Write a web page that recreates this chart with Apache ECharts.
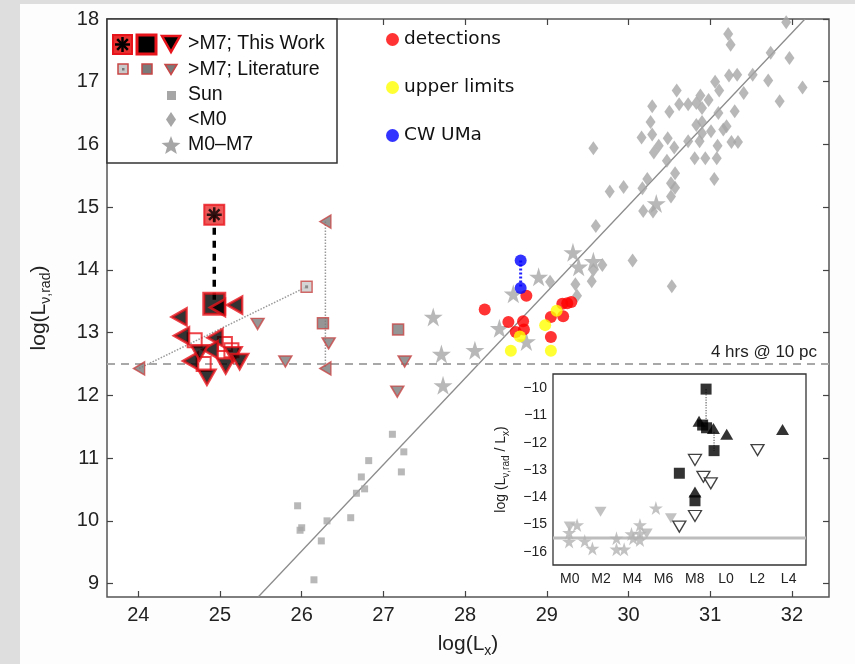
<!DOCTYPE html>
<html><head><meta charset="utf-8">
<script src="https://cdn.jsdelivr.net/npm/echarts@6/dist/echarts.min.js"></script>
<style>html,body{margin:0;padding:0;background:#fdfdfd;}#c{width:855px;height:664px;}</style>
</head><body><div id="c"></div>
<script>
// ---------- main panel ticks ----------
const xTicks = [24,25,26,27,28,29,30,31,32];
const yTicks = [9,10,11,12,13,14,15,16,17,18];
// ---------- >M7 This Work ----------
const twAsterisk = [[24.93,14.88]];
const twSquares = [[24.93,13.46]];
const twLeft = [[25.18,13.44],[24.97,13.40],[24.50,13.25],[24.53,12.95],[24.94,12.92],[24.88,12.73],[24.64,12.55]];
const twDown = [[24.75,12.68],[24.84,12.29],[25.07,12.47],[25.16,12.65],[25.24,12.54]];
const twOpenSq = [[24.69,12.88],[24.80,12.50],[25.06,12.82],[25.14,12.72]];
const twLink = [[24.93,14.88],[24.93,13.46]];
// ---------- >M7 Literature ----------
const litDotSq = [[26.06,13.73]];
const litSquares = [[26.26,13.15],[27.18,13.05]];
const litDown = [[25.46,13.14],[25.80,12.54],[26.33,12.83],[27.26,12.54],[27.17,12.06]];
const litLeft = [[24.01,12.43],[26.29,14.77],[26.29,12.43]];
const litLinkA = [[24.01,12.43],[26.06,13.73]];
const litLinkB = [[26.29,14.77],[26.29,12.43]];
// ---------- Sun, <M0, M0-M7 ----------
const sunPts = [[25.95,10.24],[26.0,9.89],[25.98,9.85],[26.31,10.0],[26.24,9.68],[26.15,9.06],[26.60,10.05],[26.67,10.44],[26.77,10.51],[26.73,10.70],[26.82,10.96],[27.11,11.38],[27.25,11.10],[27.22,10.78]];
const earlyPts = [[29.57,15.94],[29.77,15.25],[29.94,15.32],[30.17,15.30],[30.18,14.94],[30.30,14.93],[30.23,15.45],[30.52,15.17],[30.57,15.31],[30.52,15.38],[30.57,15.54],[30.47,15.74],[30.56,15.95],[30.48,16.10],[30.37,15.98],[30.31,15.87],[30.16,16.11],[30.29,16.16],[30.27,16.36],[30.29,16.61],[30.50,16.52],[30.59,16.86],[30.62,16.64],[30.73,16.64],[30.83,16.66],[30.90,16.58],[30.88,16.78],[30.98,16.71],[30.83,16.31],[30.90,16.36],[30.90,16.18],[30.87,16.05],[30.73,16.05],[31.01,16.21],[31.10,16.50],[31.11,16.86],[31.06,17.0],[31.23,17.10],[31.33,17.11],[31.30,16.53],[31.16,16.24],[31.20,16.29],[31.26,16.04],[31.34,16.04],[31.09,15.98],[31.08,15.78],[30.94,15.78],[30.81,15.78],[31.05,15.45],[31.41,16.82],[31.52,17.11],[31.71,17.02],[31.74,17.46],[31.85,16.69],[31.97,17.38],[32.13,16.91],[31.22,17.76],[31.25,17.59],[31.93,17.95],[29.60,14.70],[30.05,14.15],[29.68,14.08],[29.57,14.0],[29.55,13.82],[29.35,13.77],[29.37,13.59],[30.53,13.74],[29.04,13.81]];
const midMPts = [[27.61,13.25],[27.71,12.66],[27.73,12.16],[28.12,12.72],[28.42,13.07],[28.59,13.62],[28.75,12.86],[28.90,13.89],[29.32,14.28],[29.39,14.05],[29.57,14.14],[30.34,15.06]];
// ---------- detections / upper limits / CW UMa ----------
const detections = [[28.24,13.37],[28.75,13.59],[28.53,13.17],[28.71,13.18],[28.62,13.01],[28.72,13.05],[29.05,12.93],[29.05,13.25],[29.20,13.26],[29.19,13.46],[29.30,13.49],[29.25,13.47]];
const upperLimits = [[28.67,12.94],[28.56,12.71],[29.05,12.71],[28.98,13.12],[29.12,13.35]];
const cwUMa = [[28.68,14.15],[28.68,13.71]];
// ---------- relations ----------
const gbLine = [[25.47,8.79],[32.16,18.0]];
const sensLevel = 12.5;
const sensLabel = '4 hrs @ 10 pc';
// ---------- inset ----------
const insetXTicks = [0,2,4,6,8,10,12,14];
const insetXLabels = ['M0','M2','M4','M6','M8','L0','L2','L4'];
const insetYTicks = [-16,-15,-14,-13,-12,-11,-10];
const inSquares = [[8.72,-10.03],[8.50,-11.35],[8.75,-11.45],[9.23,-12.29],[7.01,-13.12],[8.01,-14.13]];
const inUp = [[8.27,-11.21],[9.19,-11.48],[10.04,-11.69],[13.61,-11.51],[8.01,-13.81]];
const inOpenDown = [[8.01,-12.63],[8.55,-13.25],[9.02,-13.49],[7.01,-15.08],[8.01,-14.69],[12.01,-12.27]];
const inGrayDown = [[1.97,-14.53],[6.47,-14.77],[0,-15.08],[4.92,-15.33]];
const inStars = [[-0.04,-15.30],[-0.04,-15.63],[0.47,-15.02],[0.96,-15.61],[1.45,-15.88],[2.99,-15.51],[2.99,-15.91],[3.48,-15.91],[3.95,-15.35],[4.49,-15.02],[4.49,-15.33],[4.49,-15.57],[4.06,-15.51],[5.51,-14.40]];
const inLinkA = [[8.72,-10.03],[8.72,-11.40]];
const inLinkB = [[9.23,-11.60],[9.23,-12.29]];
const inGB = [[-1.07,-15.5],[15.11,-15.5]];

const STAR = 'path://M50,0 L61,35 L98,35 L68,57 L79,91 L50,70 L21,91 L32,57 L2,35 L39,35 Z';
const ASTER = 'path://M50,0 L50,100 M0,50 L100,50 M15,15 L85,85 M85,15 L15,85';
const FONT = '"Liberation Sans", Arial, sans-serif';
const GRAY = '#a6a6a6';
const RED = '#e8141c';
const LITRED = '#c84646';
const LITFILL = '#7a7a7a';

const chart = echarts.init(document.getElementById('c'), null, {renderer:'canvas'});

function axisCommon(min,max,ticks,labels,pos,gridIndex,showLabel,fs){
  return {
    type:'value', gridIndex, min, max, position:pos,
    axisLine:{show:false},
    splitLine:{show:false},
    axisTick:{show:true, inside:true, length:6, customValues:ticks, lineStyle:{color:'#444',width:1.2}},
    axisLabel:{show:showLabel, customValues:ticks, color:'#222', fontFamily:FONT, fontSize:fs, margin:8,
      formatter: labels ? (v)=>{const i=ticks.indexOf(v);return i>=0?labels[i]:'';} : (v)=>String(v).replace('-','\u2212')}
  };
}

const xMain = axisCommon(23.617,32.454,xTicks,null,'bottom',0,true,20);
xMain.name = 'log(L{s|x})';
xMain.nameLocation='middle'; xMain.nameGap=33;
xMain.nameTextStyle={fontFamily:FONT,fontSize:21,color:'#222',rich:{s:{fontFamily:FONT,fontSize:14,padding:[14,0,0,0],color:'#222'}}};
const yMain = axisCommon(8.786,18,yTicks,null,'left',0,true,20);
yMain.name = 'log(L{s|ν,rad})';
yMain.nameLocation='middle'; yMain.nameGap=54;
yMain.nameTextStyle={fontFamily:FONT,fontSize:21,color:'#222',rich:{s:{fontFamily:FONT,fontSize:14,padding:[14,0,0,0],color:'#222'}}};

const xInset = axisCommon(-1.07,15.11,insetXTicks,insetXLabels,'bottom',1,true,14);
xInset.axisLabel.margin=7; xInset.axisTick.length=4;
const yInset = axisCommon(-16.49,-9.475,insetYTicks,null,'left',1,true,14);
yInset.axisLabel.margin=6; yInset.axisTick.length=4;
yInset.name='log (L{s|ν,rad} / L{s|x})';
yInset.nameLocation='middle'; yInset.nameGap=42;
yInset.nameTextStyle={fontFamily:FONT,fontSize:14,color:'#222',rich:{s:{fontFamily:FONT,fontSize:10,padding:[9,0,0,0],color:'#222'}}};

const xMainTop = axisCommon(23.617,32.454,xTicks,null,'top',0,false,18);
const yMainRight = axisCommon(8.786,18,yTicks,null,'right',0,false,18);
const xInsetTop = axisCommon(-1.07,15.11,insetXTicks,null,'top',1,false,13); xInsetTop.axisTick.length=4;
const yInsetRight = axisCommon(-16.49,-9.475,insetYTicks,null,'right',1,false,13); yInsetRight.axisTick.length=4;

const base = {silent:true, animation:false, emphasis:{disabled:true}};
function sc(name,data,o){return Object.assign({type:'scatter',name,data,xAxisIndex:0,yAxisIndex:0},base,o);}
function ln(name,data,o){return Object.assign({type:'line',name,data,xAxisIndex:0,yAxisIndex:0,symbol:'none',showSymbol:false},base,o);}

const series = [
  ln('gb',gbLine,{lineStyle:{color:'#8c8c8c',width:1.3},z:2,
    markLine:{silent:true,symbol:'none',animation:false,data:[{yAxis:sensLevel}],
      lineStyle:{color:'#a8a8a8',width:1.8,type:[8,6]},
      label:{show:true,position:'insideEndTop',formatter:sensLabel,fontFamily:FONT,fontSize:17,color:'#222',distance:[12,3]}}}),
  sc('<M0',earlyPts,{symbol:'diamond',symbolSize:[10,14],itemStyle:{color:GRAY},z:3}),
  sc('M0-M7',midMPts,{symbol:STAR,symbolSize:19,itemStyle:{color:GRAY},z:3}),
  sc('Sun',sunPts,{symbol:'rect',symbolSize:7,itemStyle:{color:GRAY},z:3}),
  ln('litA',litLinkA,{lineStyle:{color:'#999',width:1.5,type:'dotted'},z:4}),
  ln('litB',litLinkB,{lineStyle:{color:'#999',width:1.5,type:'dotted'},z:4}),
  sc('litDot',litDotSq,{symbol:'rect',symbolSize:11,itemStyle:{color:'#c9c9c9',borderColor:LITRED,borderWidth:1.5},z:5}),
  sc('litDotC',litDotSq,{symbol:'rect',symbolSize:3,itemStyle:{color:'#777'},z:6}),
  sc('litSq',litSquares,{symbol:'rect',symbolSize:11,itemStyle:{color:LITFILL,borderColor:LITRED,borderWidth:1.5},z:5}),
  sc('litDown',litDown,{symbol:'triangle',symbolRotate:180,symbolSize:[13,11],itemStyle:{color:LITFILL,borderColor:LITRED,borderWidth:1.5},z:5}),
  sc('litLeft',litLeft,{symbol:'triangle',symbolRotate:90,symbolSize:[13,11],itemStyle:{color:LITFILL,borderColor:LITRED,borderWidth:1.5},z:5}),
  sc('twOpen',twOpenSq,{symbol:'rect',symbolSize:14,itemStyle:{color:'rgba(255,255,255,0)',borderColor:RED,borderWidth:2},z:6}),
  ln('twLink',twLink,{lineStyle:{color:'#000',width:3.5,type:[7,6]},z:6}),
  sc('twSq',twSquares,{symbol:'rect',symbolSize:21,itemStyle:{color:'#000',borderColor:RED,borderWidth:3},z:7}),
  sc('twAstSq',twAsterisk,{symbol:'rect',symbolSize:20,itemStyle:{color:'#e83030',borderColor:RED,borderWidth:2},z:7}),
  sc('twAst',twAsterisk,{symbol:ASTER,symbolSize:15,itemStyle:{color:'none',borderColor:'#000',borderWidth:2.5},z:8}),
  sc('twLeft',twLeft,{symbol:'triangle',symbolRotate:90,symbolSize:[17,15],itemStyle:{color:'#000',borderColor:RED,borderWidth:2.5},z:8}),
  sc('twDown',twDown,{symbol:'triangle',symbolRotate:180,symbolSize:[17,15],itemStyle:{color:'#000',borderColor:RED,borderWidth:2.5},z:8}),
  ln('cwLink',cwUMa,{lineStyle:{color:'#2020ff',width:3,type:[2,2]},z:8}),
  sc('detections',detections,{symbol:'circle',symbolSize:12,itemStyle:{color:'#ff0000'},z:9}),
  sc('upper limits',upperLimits,{symbol:'circle',symbolSize:12,itemStyle:{color:'#ffff00'},z:9}),
  sc('CW UMa',cwUMa,{symbol:'circle',symbolSize:12,itemStyle:{color:'#0000ff'},z:9}),
  // inset
  ln('inGB',inGB,{xAxisIndex:2,yAxisIndex:2,lineStyle:{color:'#bdbdbd',width:3},z:10}),
  ln('inLA',inLinkA,{xAxisIndex:2,yAxisIndex:2,lineStyle:{color:'#777',width:1.3,type:'dotted'},z:10}),
  ln('inLB',inLinkB,{xAxisIndex:2,yAxisIndex:2,lineStyle:{color:'#777',width:1.3,type:'dotted'},z:10}),
  sc('inStars',inStars,{xAxisIndex:2,yAxisIndex:2,symbol:STAR,symbolSize:14,itemStyle:{color:'#b3b3b3'},z:11}),
  sc('inGrayDown',inGrayDown,{xAxisIndex:2,yAxisIndex:2,symbol:'triangle',symbolRotate:180,symbolSize:[12,10],itemStyle:{color:'#b3b3b3'},z:11}),
  sc('inOpenDown',inOpenDown,{xAxisIndex:2,yAxisIndex:2,symbol:'triangle',symbolRotate:180,symbolSize:[13,11],itemStyle:{color:'#fff',borderColor:'#111',borderWidth:1.3},z:12}),
  sc('inSq',inSquares,{xAxisIndex:2,yAxisIndex:2,symbol:'rect',symbolSize:11,itemStyle:{color:'#000'},z:12}),
  sc('inUp',inUp,{xAxisIndex:2,yAxisIndex:2,symbol:'triangle',symbolSize:[13,11],itemStyle:{color:'#000'},z:12})
];

// legend box (composite markers) drawn as graphic
const LX=107, LY=19;
function tri(cx,cy,w,h,down){return down?[[cx-w/2,cy-h/2],[cx+w/2,cy-h/2],[cx,cy+h/2]]:[[cx-w/2,cy+h/2],[cx+w/2,cy+h/2],[cx,cy-h/2]];}
function starPts(cx,cy,r){const p=[];for(let i=0;i<10;i++){const a=-Math.PI/2+i*Math.PI/5;const rr=i%2?r*0.42:r;p.push([cx+rr*Math.cos(a),cy+rr*Math.sin(a)]);}return p;}
function line(x1,y1,x2,y2,c,w){return {type:'line',shape:{x1,y1,x2,y2},style:{stroke:c,lineWidth:w},z:22};}
const LF = '19.5px '+FONT;
const legendG = [
  {type:'rect',shape:{x:LX,y:LY,width:230,height:144},style:{fill:'#fff',stroke:'#333',lineWidth:1.5},z:20},
  {type:'rect',shape:{x:113,y:35,width:19,height:19},style:{fill:'#e83030',stroke:RED,lineWidth:2},z:21},
  line(122.5,37,122.5,52,'#000',2.5), line(115,44.5,130,44.5,'#000',2.5),
  line(117.2,39.2,127.8,49.8,'#000',2.5), line(127.8,39.2,117.2,49.8,'#000',2.5),
  {type:'rect',shape:{x:137,y:35,width:19,height:19},style:{fill:'#000',stroke:RED,lineWidth:3},z:21},
  {type:'polygon',shape:{points:tri(171,44,18,16,true)},style:{fill:'#000',stroke:RED,lineWidth:2.5},z:21},
  {type:'rect',shape:{x:118,y:64,width:10,height:10},style:{fill:'#c9c9c9',stroke:LITRED,lineWidth:1.5},z:21},
  {type:'rect',shape:{x:122,y:68,width:2.5,height:2.5},style:{fill:'#777'},z:22},
  {type:'rect',shape:{x:142,y:64,width:10,height:10},style:{fill:LITFILL,stroke:LITRED,lineWidth:1.5},z:21},
  {type:'polygon',shape:{points:tri(171,69.5,12,10,true)},style:{fill:LITFILL,stroke:LITRED,lineWidth:1.5},z:21},
  {type:'rect',shape:{x:167,y:91,width:9,height:9},style:{fill:GRAY},z:21},
  {type:'polygon',shape:{points:[[171,112],[176,119.5],[171,127],[166,119.5]]},style:{fill:GRAY},z:21},
  {type:'polygon',shape:{points:starPts(171,146,10)},style:{fill:GRAY},z:21},
  {type:'text',x:188,y:44,style:{text:'>M7; This Work',font:LF,fill:'#111',verticalAlign:'middle'},z:21},
  {type:'text',x:188,y:69.5,style:{text:'>M7; Literature',font:LF,fill:'#111',verticalAlign:'middle'},z:21},
  {type:'text',x:188,y:95,style:{text:'Sun',font:LF,fill:'#111',verticalAlign:'middle'},z:21},
  {type:'text',x:188,y:119.5,style:{text:'<M0',font:LF,fill:'#111',verticalAlign:'middle'},z:21},
  {type:'text',x:188,y:145,style:{text:'M0\u2013M7',font:LF,fill:'#111',verticalAlign:'middle'},z:21},
  {type:'rect',shape:{x:0,y:0,width:855,height:4},style:{fill:'#dedede'},z:0},
  {type:'rect',shape:{x:0,y:0,width:20,height:664},style:{fill:'#dedede'},z:0}
];

chart.setOption({
  animation:false,
  backgroundColor:'#fdfdfd',
  grid:[
    {left:107,top:19,width:722,height:578,show:true,backgroundColor:'#fff',borderColor:'#555',borderWidth:1.5,z:0,outerBoundsMode:'none',containLabel:false},
    {left:553,top:374,width:253,height:191,show:true,backgroundColor:'#fff',borderColor:'#333',borderWidth:1.3,z:5,outerBoundsMode:'none',containLabel:false}
  ],
  xAxis:[xMain,xMainTop,xInset,xInsetTop],
  yAxis:[yMain,yMainRight,yInset,yInsetRight],
  legend:{data:['detections','upper limits','CW UMa'],orient:'vertical',left:381,top:25,itemWidth:13,itemHeight:13,itemGap:29,
    icon:'circle',selectedMode:false,textStyle:{fontFamily:'"DejaVu Sans", sans-serif',fontSize:18.5,color:'#111'}},
  graphic:legendG,
  series
});
</script></body></html>
